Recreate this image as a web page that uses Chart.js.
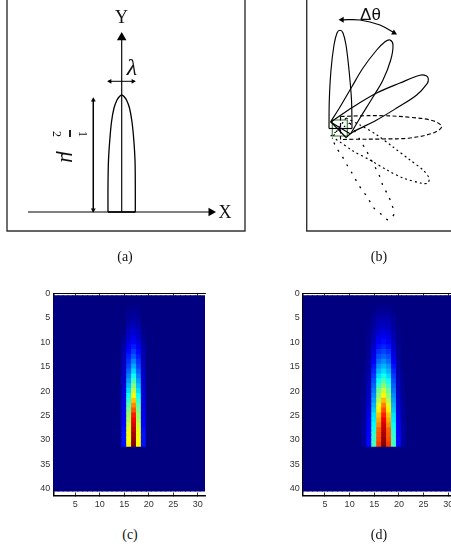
<!DOCTYPE html>
<html>
<head>
<meta charset="utf-8">
<script src="https://cdn.jsdelivr.net/npm/chart.js@4"></script>
<style>
html,body{margin:0;padding:0;background:#fff;width:451px;height:550px;overflow:hidden}
#page{position:relative;width:451px;height:550px;overflow:hidden;filter:blur(.3px);background:#fff}
canvas{position:absolute;display:block}
.t{position:absolute;color:#111;white-space:nowrap;transform:translate(-50%,-50%);font-family:"Liberation Serif",serif;line-height:1}
.r{transform:translate(-50%,-50%) rotate(90deg)}
</style>
</head>
<body>
<div id="page">
<canvas id="pa" width="266" height="256" style="left:-8px;top:-8px"></canvas>
<canvas id="pb" width="167" height="256" style="left:292px;top:-8px"></canvas>
<canvas id="pc" width="195" height="235" style="left:20px;top:285px"></canvas>
<canvas id="pd" width="200" height="235" style="left:270px;top:285px"></canvas>
<div class="t" style="left:121.5px;top:17px;font-size:18px">Y</div>
<div class="t" style="left:225px;top:212px;font-size:18px">X</div>
<div class="t" style="left:132px;top:67px;font-size:24px;font-style:italic">λ</div>
<div class="t r" style="left:83px;top:134px;font-size:12px">1</div>
<div class="t r" style="left:56.5px;top:134px;font-size:12px">2</div>
<div class="t r" style="left:68px;top:157px;font-size:23px;font-style:italic">μ</div>
<div class="t" style="left:370.5px;top:14px;font-size:17px;font-family:'Liberation Sans',sans-serif">Δθ</div>
<div class="t" style="left:125px;top:257px;font-size:14px">(a)</div>
<div class="t" style="left:379px;top:257px;font-size:14px">(b)</div>
<div class="t" style="left:130px;top:535px;font-size:14px">(c)</div>
<div class="t" style="left:379px;top:535px;font-size:14px">(d)</div>
</div>
<script>
// ---- tick labels of the two heat maps
const xTicks = [5, 10, 15, 20, 25, 30];
const yTicks = [0, 5, 10, 15, 20, 25, 30, 35, 40];
const nCols = 31;
const nRows = 40;

// ---- panel (c): jet-scale intensity of each column, rows 1 to 31 (0 above/below)
const cCol15 = [0,0,0,0,0,0,0,.01,.02,.03,.04,.045,.05,.055,.06,.065,.07,.075,.08,.085,.09,.095,.10,.105,.11,.115,.125,.135,.14,.14,.14];
const cCol16 = [0,0,.01,.015,.025,.035,.05,.06,.07,.09,.11,.13,.15,.17,.19,.22,.25,.28,.31,.34,.38,.42,.46,.49,.52,.54,.57,.60,.61,.62,.63];
const cCol17 = [0,0,.01,.02,.03,.045,.06,.08,.10,.125,.15,.18,.21,.25,.29,.33,.38,.44,.50,.56,.62,.68,.74,.79,.85,.88,.91,.94,.96,.98,1];
const cCol18 = [0,0,.01,.015,.025,.035,.05,.06,.07,.09,.11,.13,.15,.17,.19,.22,.25,.28,.31,.34,.38,.42,.46,.49,.52,.54,.57,.60,.61,.62,.63];
const cCol19 = [0,0,0,0,0,0,0,.01,.02,.03,.04,.045,.05,.055,.06,.065,.07,.075,.08,.085,.09,.095,.10,.105,.11,.115,.125,.135,.14,.14,.14];

// ---- panel (d)
const dCol13 = [0,0,0,0,0,0,0,0,0,0,0,0,0,0,.005,.005,.01,.01,.01,.015,.015,.02,.02,.02,.025,.025,.03,.03,.03,.03,.03];
const dCol14 = [0,0,0,0,.005,.005,.01,.01,.015,.015,.02,.02,.025,.03,.03,.04,.045,.05,.055,.06,.065,.07,.08,.09,.10,.105,.11,.12,.125,.13,.13];
const dCol15 = [0,0,.005,.01,.02,.025,.03,.04,.05,.06,.07,.09,.10,.12,.14,.16,.18,.20,.22,.24,.26,.28,.30,.32,.35,.36,.38,.40,.42,.43,.44];
const dCol16 = [0,0,.015,.02,.04,.05,.06,.08,.10,.12,.14,.17,.20,.23,.27,.30,.34,.38,.43,.48,.51,.55,.60,.64,.68,.71,.74,.78,.79,.80,.82];
const dCol17 = [0,0,.015,.025,.04,.055,.075,.09,.11,.135,.16,.19,.22,.26,.30,.34,.39,.45,.51,.57,.63,.69,.75,.80,.85,.89,.92,.94,.96,.98,1];
const dCol18 = [0,0,.015,.02,.04,.05,.06,.08,.10,.12,.14,.17,.20,.23,.27,.30,.34,.38,.43,.48,.51,.55,.60,.64,.68,.71,.74,.78,.79,.80,.82];
const dCol19 = [0,0,.005,.01,.02,.025,.03,.04,.05,.06,.07,.09,.10,.12,.14,.16,.18,.20,.22,.24,.26,.28,.30,.32,.35,.36,.38,.40,.42,.43,.44];
const dCol20 = [0,0,0,0,.005,.005,.01,.01,.015,.015,.02,.02,.025,.03,.03,.04,.045,.05,.055,.06,.065,.07,.08,.09,.10,.105,.11,.12,.125,.13,.13];
const dCol21 = [0,0,0,0,0,0,0,0,0,0,0,0,0,0,.005,.005,.01,.01,.01,.015,.015,.02,.02,.02,.025,.025,.03,.03,.03,.03,.03];

// ---- panel (a) outlines
const bumpOutline = [[108,212],[108,185],[108.5,160],[109.8,140],[111.5,122],[114,108],[117,100],[119.5,96.5],[121.7,95],[124,96.5],[126.5,100],[129.5,108],[132,122],[133.8,140],[135,160],[135.3,185],[135.3,212]];
const bumpBase = [[108,212],[135.3,212]];
const frameA = [[7,-5],[7,231],[245,231],[245,-5]];
const axisX = [[28,212],[214,212]];
const axisY = [[121.7,212],[121.7,36]];
const spanHeight = [[93.3,99],[93.3,212]];
const spanWidth = [[108,81.3],[135,81.3]];
const fractionBar = [[70,130],[70,137]];

// ---- panel (b) outlines
const frameB = [[306.7,-5],[306.7,231],[460,231]];
const lobe1 = [[329,128.5],[329.3,100],[331,70],[334,45],[337,33],[340,30.2],[343,33],[346,45],[349,70],[351.5,100],[352,128.5]];
const lobe2 = [[330.5,122],[340,107],[351.7,87],[363,68],[376.7,50],[385,41.7],[390,40],[393,45],[390.7,60],[383,80],[373,97],[360,118],[350.5,134]];
const lobe3 = [[331,122],[353,107],[376.7,93],[400,83],[420,75.2],[426.7,76],[428.3,79],[427.3,83.3],[416.7,95],[396.7,108],[376.7,120],[353,132],[346,137.5]];
const lobe4 = [[340.5,116.5],[353,116],[383,115.7],[410,117.3],[433,120.7],[441.7,126.7],[433,133],[410,138],[383,139],[353,139.3],[340.5,139.5]];
const lobe5 = [[346,118],[360,125],[377,135],[393,147],[410,160],[423,170],[429,178],[428,183],[423,183.5],[403,178],[387,170],[370,160],[353,151],[337,140],[332,138]];
const lobe6 = [[350,123],[360,140],[366,150],[375,167],[380,177],[383,186],[388,195],[392,205],[394,214],[388.3,220],[381,214],[373,207],[368,198],[362,190],[357,182],[352,173],[347,165],[342,156],[336,147],[331,135]];
const base1 = [[329,128.5],[352,128.5]];
const base2 = [[330.5,122],[350.5,134]];
const base3 = [[331,122],[346,137.5]];
const base4 = [[340.5,116.5],[340.5,139.5]];
const base5 = [[346,118],[332,138]];
const base6 = [[350,123],[331,135]];
const greenBox = [[332.3,120],[347.3,120],[347.3,136],[332.3,136],[332.3,120]];
const sweepArc = [[342,19.8],[360,20],[380,25],[393,32]];

function pts(a){ return a.map(p => ({x:p[0], y:p[1]})); }
function line(a, o){
  return Object.assign({data:pts(a), showLine:true, borderColor:'#000', borderWidth:1.15, pointRadius:0, tension:0, fill:false}, o||{});
}
function head(p, rot, r){
  return {data:pts([p]), showLine:false, pointStyle:'triangle', pointRadius:r, pointRotation:rot,
          pointBackgroundColor:'#000', pointBorderColor:'#000', pointBorderWidth:0};
}
function canvasChart(id, x0, x1, y0, y1, datasets){
  return new Chart(document.getElementById(id), {
    type:'scatter',
    data:{datasets:datasets},
    options:{
      responsive:false, animation:false, events:[],
      layout:{padding:8},
      plugins:{legend:{display:false}, tooltip:{enabled:false}},
      scales:{
        x:{type:'linear', min:x0, max:x1, display:false},
        y:{type:'linear', min:y0, max:y1, reverse:true, display:false}
      }
    }
  });
}

canvasChart('pa', 0, 250, 0, 240, [
  line(frameA, {borderColor:'#333', borderWidth:1.4}),
  line(bumpOutline, {tension:.35, borderWidth:1.3}),
  line(bumpBase, {borderWidth:1.6}),
  line(axisX), line(axisY),
  line(spanHeight, {borderWidth:1}), line(spanWidth, {borderWidth:1}),
  line(fractionBar, {borderWidth:1}),
  head([211,212], 90, 5), head([121.7,37.5], 0, 5.5),
  head([93.3,100], 0, 2.8), head([93.3,210], 180, 2.8),
  head([110,81.3], 270, 2.8), head([133,81.3], 90, 2.8)
]);

canvasChart('pb', 300, 451, 0, 240, [
  line(frameB, {borderColor:'#333', borderWidth:1.4}),
  line(lobe1, {tension:.35}), line(base1),
  line(lobe2, {tension:.35}), line(base2),
  line(lobe3, {tension:.35}), line(base3),
  line(lobe4, {tension:.35, borderDash:[4,2.5]}), line(base4, {borderDash:[4,2.5]}),
  line(lobe5, {tension:.3, borderDash:[2,3]}), line(base5, {borderDash:[2,3]}),
  line(lobe6, {tension:.3, borderDash:[2,6.5], borderWidth:1.3}), line(base6, {borderDash:[1.6,4]}),
  line(greenBox, {borderColor:'#2a7d2a', borderWidth:1.1}),
  line(sweepArc, {tension:.35}),
  head([342,19.8], 270, 3.4), head([394,32.8], 118, 3.4)
]);

// MATLAB "jet" colour scale (0..1 -> colour)
function jet(v){
  const c = t => Math.round(255 * Math.max(0, Math.min(1, 1.5 - Math.abs(4 * v - t))));
  return 'rgb(' + c(3) + ',' + c(2) + ',' + c(1) + ')';
}
function cells(columns){
  const out = [];
  for (let col = 1; col <= nCols; col++){
    const values = columns[col];
    for (let row = 1; row <= nRows; row++){
      const v = values && values[row - 1] !== undefined ? values[row - 1] : 0;
      out.push({x:col, y:[row - .5, row + .5], v:v});
    }
  }
  return out;
}
function heatmap(id, columns, yAxisWidth, rightPad){
  return new Chart(document.getElementById(id), {
    type:'bar',
    data:{datasets:[{
      data:cells(columns),
      backgroundColor:c => jet(c.raw ? c.raw.v : 0),
      borderWidth:0, barPercentage:1, categoryPercentage:1, grouped:false, inflateAmount:.5
    }]},
    options:{
      responsive:false, animation:false, events:[],
      layout:{padding:{top:7.5, right:rightPad, bottom:0, left:0}},
      plugins:{legend:{display:false}, tooltip:{enabled:false}},
      scales:{
        x:{type:'linear', min:.5, max:31.5, position:'bottom', offset:false,
           afterBuildTicks:s => { s.ticks = xTicks.map(v => ({value:v})); },
           afterFit:s => { s.height = 24.5; },
           grid:{drawOnChartArea:false, drawTicks:true, tickLength:-3, color:'#000', lineWidth:.8, offset:false},
           border:{display:true, color:'#000', width:1.5},
           ticks:{font:{family:'"Liberation Sans"', size:9}, color:'#333', padding:7, maxRotation:0, autoSkip:false}},
        xTop:{type:'linear', min:.5, max:31.5, position:'top', axis:'x', offset:false,
           afterBuildTicks:s => { s.ticks = xTicks.map(v => ({value:v})); },
           afterFit:s => { s.height = 0; },
           grid:{drawOnChartArea:false, drawTicks:true, tickLength:-3, color:'#000', lineWidth:.8, offset:false},
           border:{display:true, color:'#000', width:1},
           ticks:{display:false}},
        y:{type:'linear', min:0, max:41.4, reverse:true,
           afterBuildTicks:s => { s.ticks = yTicks.map(v => ({value:v})); },
           afterFit:s => { s.width = yAxisWidth; },
           grid:{drawOnChartArea:false, drawTicks:false},
           border:{display:true, color:'#000', width:1.5},
           ticks:{font:{family:'"Liberation Sans"', size:9}, color:'#333', padding:3, autoSkip:false}}
      }
    }
  });
}
heatmap('pc', {15:cCol15, 16:cCol16, 17:cCol17, 18:cCol18, 19:cCol19}, 33.3, 10);
heatmap('pd', {13:dCol13, 14:dCol14, 15:dCol15, 16:dCol16, 17:dCol17, 18:dCol18, 19:dCol19, 20:dCol20, 21:dCol21}, 32.8, 14.4);
</script>
</body>
</html>
